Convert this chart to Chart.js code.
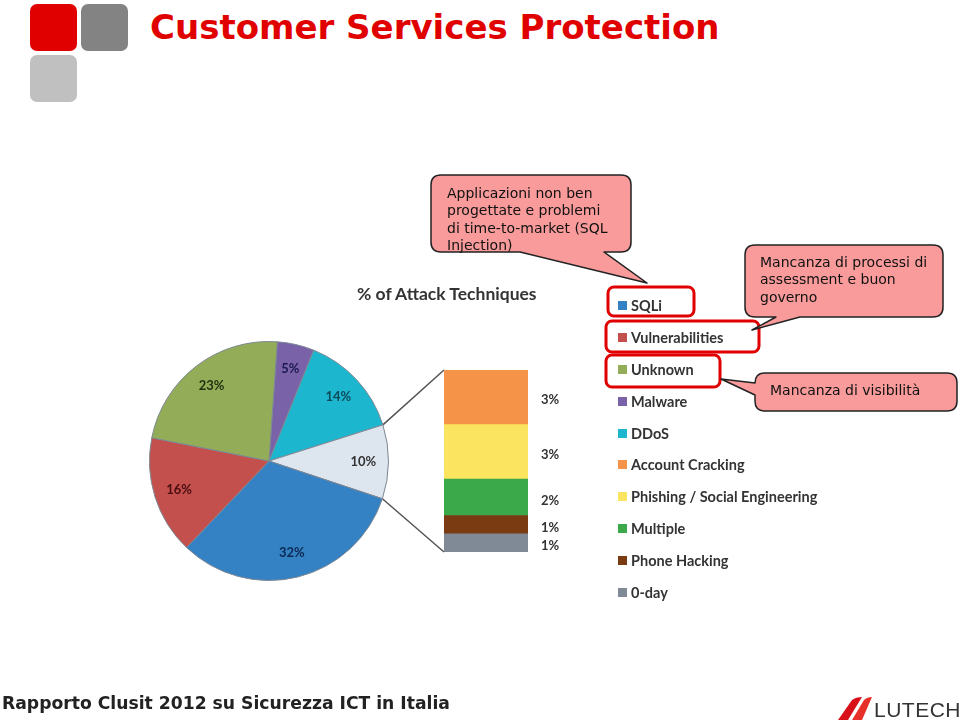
<!DOCTYPE html>
<html>
<head>
<meta charset="utf-8">
<script src="https://cdn.jsdelivr.net/npm/chart.js@4.4.0/dist/chart.umd.min.js"></script>
<style>
  body { margin: 0; width: 960px; height: 725px; position: relative; overflow: hidden; background: #fff; font-family: "DejaVu Sans", Verdana, sans-serif; }
  .abs { position: absolute; }
  .sq { position: absolute; width: 47px; height: 47px; border-radius: 7px; }
  #title { left: 150px; top: 7px; font-size: 34px; font-weight: bold; color: #e00000; white-space: nowrap; }
  #ctitle { left: 357px; top: 283px; font: bold 17.5px Lato, sans-serif; color: #333; white-space: nowrap; }
  .note { position: absolute; font-size: 14px; line-height: 17.3px; color: #111; white-space: nowrap; }
  #legend { left: 618px; top: 290px; font: bold 14.5px Lato, sans-serif; color: #333; }
  #legend div { height: 31.8px; display: flex; align-items: center; white-space: nowrap; }
  #legend span { display: inline-block; width: 9px; height: 9px; margin-right: 4px; }
  #footer { left: 2px; top: 693px; font-size: 17.2px; font-weight: bold; color: #222; white-space: nowrap; }
  #lutech { left: 874px; top: 698px; font: 21px "Liberation Sans", Arial, sans-serif; color: #333; letter-spacing: 0.5px; }
</style>
</head>
<body>
<div class="sq" style="left:30px;top:4px;background:#e00000"></div>
<div class="sq" style="left:81px;top:4px;background:#838383"></div>
<div class="sq" style="left:30px;top:55px;background:#c0c0c0"></div>
<div id="title" class="abs">Customer Services Protection</div>

<canvas id="links" class="abs" width="960" height="725" style="left:0;top:0"></canvas>
<div id="ctitle" class="abs">% of Attack Techniques</div>
<canvas id="pie" class="abs" width="240" height="240" style="left:149px;top:341px"></canvas>
<canvas id="bar" class="abs" width="140" height="182" style="left:444px;top:370px"></canvas>
<div id="legend" class="abs"></div>

<svg class="abs" width="960" height="725" style="left:0;top:0" fill="none">
  <g stroke="#e00000" stroke-width="3">
    <rect x="608" y="287" width="86" height="29" rx="6"/>
    <rect x="606" y="321" width="153" height="31" rx="6"/>
    <rect x="606" y="355" width="114" height="32" rx="6"/>
  </g>
  <g fill="#f99b9b" stroke="#222" stroke-width="1.5" stroke-linejoin="round">
    <path d="M441 175 H621 Q631 175 631 185 V242 Q631 252 621 252 H604 L647 283 L520 252 H441 Q431 252 431 242 V185 Q431 175 441 175 Z"/>
    <path d="M755 245 H933 Q943 245 943 255 V307 Q943 317 933 317 H800 L752 330 L776 317 H755 Q745 317 745 307 V255 Q745 245 755 245 Z"/>
    <path d="M765 373 H947 Q957 373 957 383 V401 Q957 411 947 411 H765 Q755 411 755 401 V395 L721 379 L755 383 Q755 373 765 373 Z"/>
  </g>
</svg>
<div class="note" style="left:447px;top:185px">Applicazioni non ben<br>progettate e problemi<br>di time-to-market (SQL<br>Injection)</div>
<div class="note" style="left:760px;top:254px">Mancanza di processi di<br>assessment e buon<br>governo</div>
<div class="note" style="left:770px;top:382px">Mancanza di visibilità</div>

<div id="footer" class="abs">Rapporto Clusit 2012 su Sicurezza ICT in Italia</div>
<svg class="abs" width="40" height="26" style="left:836px;top:696px">
  <path d="M2 24 L16 4 Q20 1 26 1 L12 24 Z" fill="#d8101a"/>
  <path d="M16 24 L28 4 Q31 1 36 1 L26 24 Z" fill="#e8302a"/>
</svg>
<div id="lutech" class="abs">LUTECH</div>

<script>
const $ = id => document.getElementById(id);

// main pie, clockwise from the top
const pieLabels = ['Malware', 'DDoS', 'Other', 'SQLi', 'Vulnerabilities', 'Unknown'];
const pieValues = [5, 14, 10, 32, 16, 23];
const pieColors = ['#7a62a8', '#1db6cf', '#dde5ee', '#3481c3', '#c3504d', '#93ac57'];
const pieTextColors = ['#1c1850', '#0d4a5a', '#333333', '#0e2a55', '#4a0d10', '#1c3010'];

// breakdown of "Other" (top to bottom of the bar)
const otherLabels = ['Account Cracking', 'Phishing / Social Engineering', 'Multiple', 'Phone Hacking', '0-day'];
const otherValues = [3, 3, 2, 1, 1];
const otherColors = ['#f59449', '#fbe45f', '#3ba84a', '#7b3b12', '#808a96'];

const legendLabels = ['SQLi', 'Vulnerabilities', 'Unknown', 'Malware', 'DDoS'].concat(otherLabels);
const legendColors = legendLabels.map(l => {
  const i = pieLabels.indexOf(l);
  return i >= 0 ? pieColors[i] : otherColors[otherLabels.indexOf(l)];
});

$('legend').innerHTML = legendLabels.map((l, i) =>
  `<div><span style="background:${legendColors[i]}"></span>${l}</div>`).join('');

const pctLabels = {
  id: 'pctLabels',
  afterDatasetsDraw(c) {
    const ctx = c.ctx;
    ctx.save();
    ctx.font = 'bold 13px Lato, sans-serif';
    ctx.textAlign = 'center';
    ctx.textBaseline = 'middle';
    c.getDatasetMeta(0).data.forEach((a, i) => {
      const m = (a.startAngle + a.endAngle) / 2, r = a.outerRadius * 0.79;
      ctx.fillStyle = pieTextColors[i];
      ctx.fillText(pieValues[i] + '%', a.x + Math.cos(m) * r, a.y + Math.sin(m) * r);
    });
    ctx.restore();
  }
};

const barLabels = {
  id: 'barLabels',
  afterDatasetsDraw(c) {
    const ctx = c.ctx;
    ctx.save();
    ctx.font = 'bold 13px Lato, sans-serif';
    ctx.fillStyle = '#333';
    ctx.textBaseline = 'middle';
    c.data.datasets.forEach((ds, i) => {
      const b = c.getDatasetMeta(i).data[0];
      ctx.fillText(ds.data[0] + '%', b.x + b.width / 2 + 13, (b.y + b.base) / 2 + 3);
    });
    ctx.restore();
  }
};

const pie = new Chart($('pie'), {
  type: 'pie',
  data: { labels: pieLabels, datasets: [{ data: pieValues, backgroundColor: pieColors, borderColor: '#7d8894', borderWidth: 1 }] },
  options: {
    responsive: false, animation: false, rotation: 4,
    plugins: { legend: { display: false }, tooltip: { enabled: false } }
  },
  plugins: [pctLabels]
});

const bar = new Chart($('bar'), {
  type: 'bar',
  data: {
    labels: ['Other'],
    datasets: otherLabels.map((l, i) => ({ label: l, data: [otherValues[i]], backgroundColor: otherColors[i], borderWidth: 0 })).reverse()
  },
  options: {
    responsive: false, animation: false,
    layout: { padding: { right: 56 } },
    datasets: { bar: { barPercentage: 1, categoryPercentage: 1 } },
    scales: {
      x: { stacked: true, display: false },
      y: { stacked: true, display: false, min: 0, max: 10 }
    },
    plugins: { legend: { display: false }, tooltip: { enabled: false } }
  },
  plugins: [barLabels]
});

// connector lines from the "Other" slice to the bar
(() => {
  const arc = pie.getDatasetMeta(0).data[pieLabels.indexOf('Other')];
  const pc = $('pie'), bc = $('bar');
  const px = pc.offsetLeft + arc.x, py = pc.offsetTop + arc.y, r = arc.outerRadius;
  const n = bar.data.datasets.length;
  const top = bar.getDatasetMeta(n - 1).data[0], bottom = bar.getDatasetMeta(0).data[0];
  const bx = bc.offsetLeft + top.x - top.width / 2;
  const ctx = $('links').getContext('2d');
  ctx.strokeStyle = '#555';
  ctx.lineWidth = 1.5;
  ctx.beginPath();
  ctx.moveTo(px + Math.cos(arc.startAngle) * r, py + Math.sin(arc.startAngle) * r);
  ctx.lineTo(bx, bc.offsetTop + top.y);
  ctx.moveTo(px + Math.cos(arc.endAngle) * r, py + Math.sin(arc.endAngle) * r);
  ctx.lineTo(bx, bc.offsetTop + bottom.base);
  ctx.stroke();
})();
</script>
</body>
</html>
